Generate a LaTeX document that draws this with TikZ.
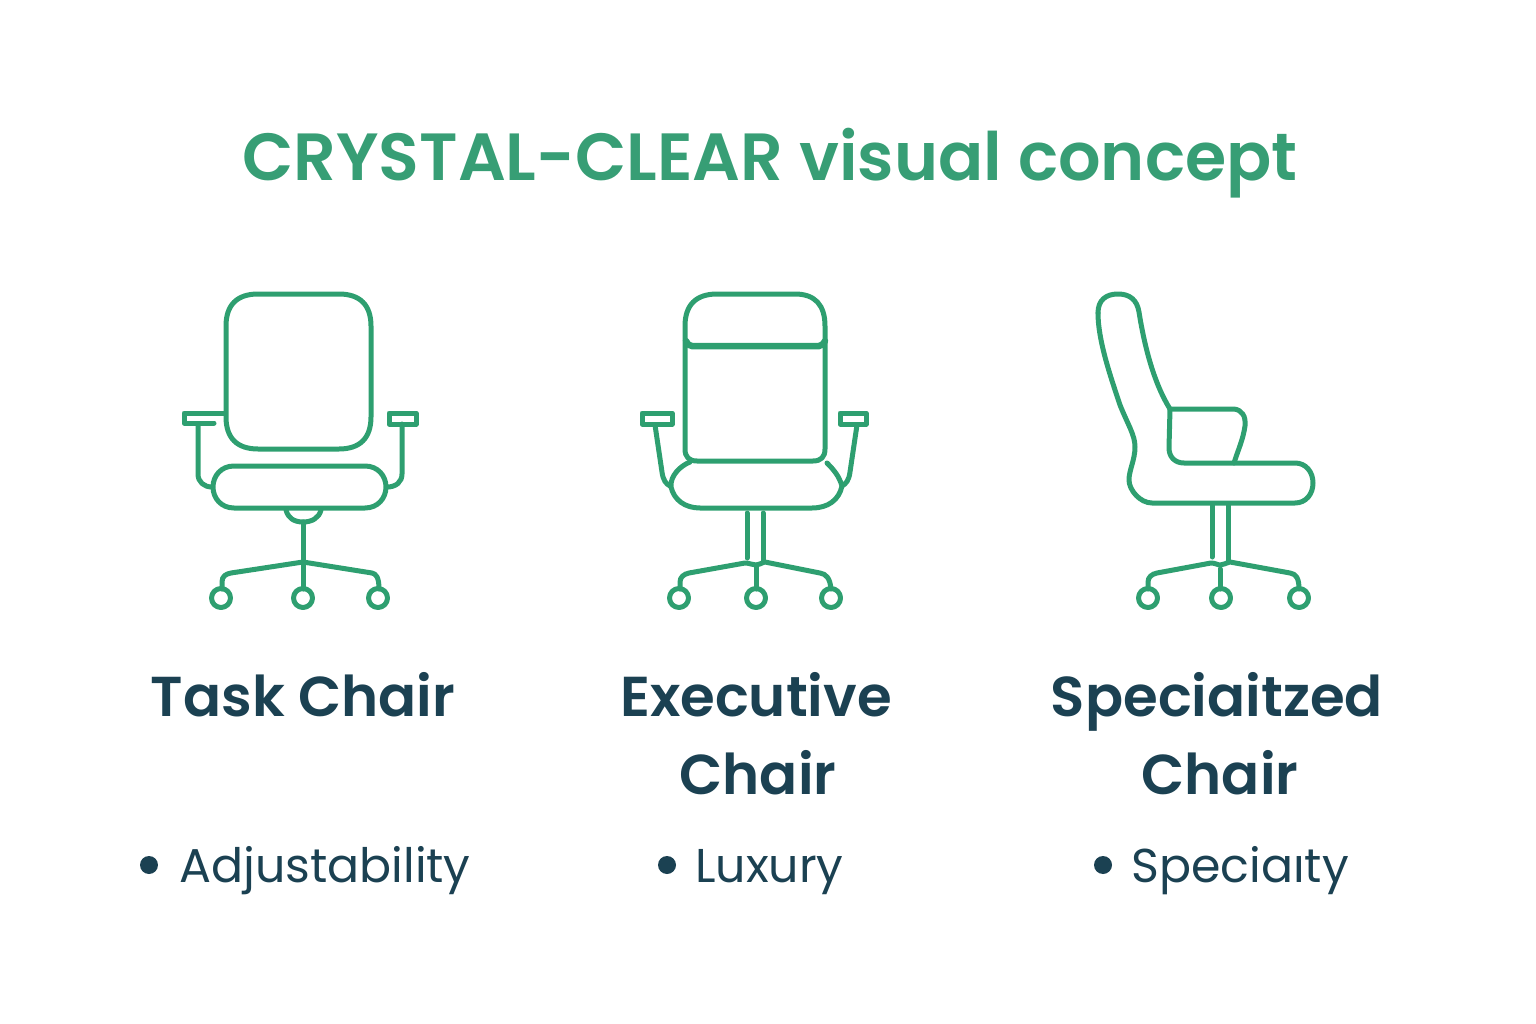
\documentclass[tikz,border=0pt]{standalone}
\usepackage{fontspec}
\setmainfont[Ligatures=NoCommon]{Poppins}
\newfontfamily\headfont[Ligatures=NoCommon]{Poppins SemiBold}
\definecolor{chairgreen}{HTML}{2E9F70}
\definecolor{titlegreen}{HTML}{379E75}
\definecolor{labelink}{HTML}{1B4152}
\tikzset{
  chairline/.style={draw=chairgreen,line width=0.1cm,line join=round,line cap=round},
  thickline/.style={draw=chairgreen,line width=0.13cm,line cap=round},
  titletext/.style={anchor=base,inner sep=0pt,text=titlegreen,font=\headfont\fontsize{38}{38}\selectfont},
  nametext/.style={anchor=base,inner sep=0pt,text=labelink,font=\headfont\fontsize{32}{32}\selectfont},
  itemtext/.style={anchor=base west,inner sep=0pt,text=labelink,font=\fontsize{27}{27}\selectfont},
  itemdot/.style={circle,fill=labelink,inner sep=0pt,minimum size=0.36cm}
}
\begin{document}
\begin{tikzpicture}[x=0.02cm,y=-0.02cm]
  \useasboundingbox (0,0) rectangle (1536,1024);

  % Drawing title
  \node [titletext] (title) at (770,180) {CRYSTAL-CLEAR visual concept};

  % Drawing task chair back
  \draw [chairline] (226,326) .. controls (226,305) and (237,294) .. (258,294) -- (339,294)
    .. controls (360,294) and (371,305) .. (371,326) -- (371,417)
    .. controls (371,438) and (360,449) .. (339,449) -- (258,449)
    .. controls (237,449) and (226,438) .. (226,417) -- cycle;
  % Drawing task chair seat
  \draw [chairline] (234,466) -- (365,466) .. controls (378,466) and (386,476) .. (386,487)
    .. controls (386,498) and (378,508) .. (365,508) -- (234,508)
    .. controls (221,508) and (213,498) .. (213,487) .. controls (213,476) and (221,466) .. (234,466) -- cycle;
  % Drawing task chair arms
  \draw [chairline] (224,413) -- (184,413) -- (184,423) -- (214,423);
  \draw [chairline] (198,424) -- (198,474) .. controls (198,482) and (204,487) .. (212,487);
  \draw [chairline] (389,413) -- (416,413) -- (416,424) -- (389,424) -- cycle;
  \draw [chairline] (402,424) -- (402,474) .. controls (402,482) and (396,487) .. (387,487);
  % Drawing task chair swivel and base
  \draw [chairline] (286,510) .. controls (288,518) and (294,522) .. (303,522)
    .. controls (312,522) and (319,518) .. (321,510);
  \draw [chairline] (303,522) -- (303,589);
  \draw [chairline] (222,589) -- (222,582) .. controls (222,576) and (226,574) .. (231,573) -- (303,562)
    -- (372,573) .. controls (376,574) and (379,577) .. (379,589);
  % Marking task chair casters
  \draw [chairline] (221,598) circle (9.5);
  \draw [chairline] (303,598) circle (9.5);
  \draw [chairline] (378,598) circle (9.5);

  % Drawing executive chair back
  \draw [chairline] (685,326) .. controls (685,305) and (696,294) .. (717,294) -- (795,294)
    .. controls (815,294) and (825,305) .. (825,326) -- (825,449)
    .. controls (825,457) and (821,461) .. (813,461) -- (697,461)
    .. controls (689,461) and (685,457) .. (685,449) -- cycle;
  \draw [thickline] (686,341) .. controls (687,344) and (689,346) .. (692,346) -- (819,346)
    .. controls (822,346) and (823,344) .. (825,341);
  % Drawing executive chair seat
  \draw [chairline] (690,462) .. controls (680,466) and (670,476) .. (671,487)
    .. controls (674,500) and (685,508) .. (700,508) -- (812,508)
    .. controls (828,508) and (839,500) .. (842,486) .. controls (839,476) and (834,470) .. (827,463);
  % Drawing executive chair arms
  \draw [chairline] (642,413) -- (672,413) -- (672,424) -- (642,424) -- cycle;
  \draw [chairline] (655,425) -- (662,472) .. controls (663,480) and (666,484) .. (670,486);
  \draw [chairline] (840,413) -- (866,413) -- (866,424) -- (840,424) -- cycle;
  \draw [chairline] (857,425) -- (850,472) .. controls (849,480) and (846,484) .. (842,486);
  % Drawing executive chair column and base
  \draw [chairline] (747,513) -- (747,558);
  \draw [chairline] (763,513) -- (763,560);
  \draw [chairline] (756,565) -- (756,589);
  \draw [chairline] (680,589) -- (680,582) .. controls (680,577) and (684,574) .. (689,573) -- (745,563)
    .. controls (750,563) and (752,565) .. (756,565) .. controls (759,565) and (761,563) .. (765,562)
    -- (820,573) .. controls (826,574) and (830,578) .. (831,589);
  % Marking executive chair casters
  \draw [chairline] (679,598) circle (9.5);
  \draw [chairline] (756,598) circle (9.5);
  \draw [chairline] (831,598) circle (9.5);

  % Drawing specialized chair body
  \draw [chairline] (1098,313) .. controls (1098,300) and (1106,294) .. (1118,294)
    .. controls (1130,294) and (1137,300) .. (1139,312)
    .. controls (1145,350) and (1155,385) .. (1170,409) -- (1234,409)
    .. controls (1242,410) and (1246,416) .. (1245,426)
    .. controls (1243,440) and (1238,450) .. (1234,463);
  \draw [chairline] (1170,409) -- (1169,448) .. controls (1169,457) and (1175,463) .. (1184,463) -- (1295,463)
    .. controls (1306,463) and (1313,472) .. (1313,483) .. controls (1313,494) and (1306,503) .. (1295,503) -- (1152,503)
    .. controls (1140,503) and (1129,490) .. (1129,480) .. controls (1129,470) and (1135,460) .. (1135,447)
    .. controls (1135,435) and (1128,425) .. (1120,405) .. controls (1110,375) and (1098,340) .. (1098,313);
  % Drawing specialized chair column and base
  \draw [chairline] (1212,505) -- (1212,557);
  \draw [chairline] (1228,505) -- (1228,560);
  \draw [chairline] (1220,569) -- (1220,589);
  \draw [chairline] (1148,589) -- (1148,582) .. controls (1148,577) and (1152,574) .. (1157,573) -- (1211,563)
    .. controls (1215,563) and (1218,565) .. (1220,565) .. controls (1223,565) and (1226,563) .. (1230,562)
    -- (1290,573) .. controls (1296,574) and (1299,578) .. (1299,589);
  % Marking specialized chair casters
  \draw [chairline] (1148,598) circle (9.5);
  \draw [chairline] (1221,598) circle (9.5);
  \draw [chairline] (1299,598) circle (9.5);

  % Drawing chair names
  \node [nametext] (taskname) at (303,716) {Task Chair};
  \node [nametext] (execname) at (756,716) {Executive};
  \node [nametext] (execchair) at (758,794) {Chair};
  \node [nametext] (specname) at (1217,716) {Speciaitzed};
  \node [nametext] (specchair) at (1220,794) {Chair};

  % Drawing bullet items
  \node [itemdot] (taskdot) at (149,865) {};
  \node [itemtext] (taskitem) at (179,882) {Adjustability};
  \node [itemdot] (execdot) at (667,865) {};
  \node [itemtext] (execitem) at (695,882) {Luxury};
  \node [itemdot] (specdot) at (1103,865) {};
  \node [itemtext] (specitem) at (1131,882) {Speciaıty};
\end{tikzpicture}
\end{document}
